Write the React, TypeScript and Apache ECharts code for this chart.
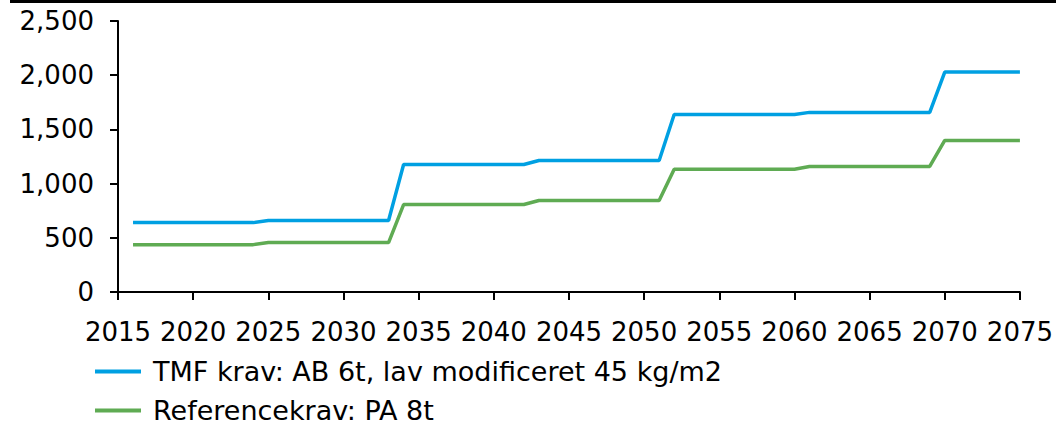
import React, { useEffect, useRef } from "react";
import * as echarts from "echarts";

const years = [
  2016, 2017, 2018, 2019, 2020, 2021, 2022, 2023, 2024,
  2025, 2026, 2027, 2028, 2029, 2030, 2031, 2032, 2033,
  2034, 2035, 2036, 2037, 2038, 2039, 2040, 2041, 2042,
  2043, 2044, 2045, 2046, 2047, 2048, 2049, 2050, 2051,
  2052, 2053, 2054, 2055, 2056, 2057, 2058, 2059, 2060,
  2061, 2062, 2063, 2064, 2065, 2066, 2067, 2068, 2069,
  2070, 2071, 2072, 2073, 2074, 2075,
];

const tmfValues = [
  640, 640, 640, 640, 640, 640, 640, 640, 640,
  659, 659, 659, 659, 659, 659, 659, 659, 659,
  1176, 1176, 1176, 1176, 1176, 1176, 1176, 1176, 1176,
  1213, 1213, 1213, 1213, 1213, 1213, 1213, 1213, 1213,
  1638, 1638, 1638, 1638, 1638, 1638, 1638, 1638, 1638,
  1657, 1657, 1657, 1657, 1657, 1657, 1657, 1657, 1657,
  2029, 2029, 2029, 2029, 2029, 2029,
];

const refValues = [
  437, 437, 437, 437, 437, 437, 437, 437, 437,
  456, 456, 456, 456, 456, 456, 456, 456, 456,
  807, 807, 807, 807, 807, 807, 807, 807, 807,
  844, 844, 844, 844, 844, 844, 844, 844, 844,
  1133, 1133, 1133, 1133, 1133, 1133, 1133, 1133, 1133,
  1158, 1158, 1158, 1158, 1158, 1158, 1158, 1158, 1158,
  1398, 1398, 1398, 1398, 1398, 1398,
];

const seriesNames = [
  "TMF krav: AB 6t, lav modificeret 45 kg/m2",
  "Referencekrav: PA 8t",
];

const FONT = "'DejaVu Sans', Verdana, sans-serif";

export default function App() {
  const ref = useRef<HTMLDivElement>(null);

  useEffect(() => {
    document.body.style.margin = "0";
    const chart = echarts.init(ref.current!, null, { renderer: "svg" });
    const toPairs = (vals: number[]) => years.map((y, i) => [y, vals[i]]);
    const legendBase = {
      orient: "vertical",
      left: 95,
      padding: 0,
      itemWidth: 46,
      itemHeight: 4,
      icon: "rect",
      textStyle: {
        color: "#000",
        fontSize: 27,
        lineHeight: 22,
        fontFamily: FONT,
        padding: [0, 0, 0, 7],
      },
    };
    chart.setOption({
      animation: false,
      textStyle: { fontFamily: FONT },
      grid: { left: 118, right: 36, top: 21, bottom: 133, containLabel: false },
      graphic: [
        {
          type: "rect",
          shape: { x: 10, y: 0, width: 1046, height: 3 },
          style: { fill: "#000" },
        },
      ],
      xAxis: {
        type: "value",
        min: 2015,
        max: 2075,
        interval: 5,
        axisLine: { show: true, onZero: false, lineStyle: { color: "#000", width: 2 } },
        axisTick: { show: true, length: 8, lineStyle: { color: "#000", width: 2 } },
        splitLine: { show: false },
        axisLabel: {
          color: "#000",
          fontSize: 26,
          fontFamily: FONT,
          margin: 27,
          formatter: (v: number) => String(v),
        },
      },
      yAxis: {
        type: "value",
        min: 0,
        max: 2500,
        interval: 500,
        axisLine: { show: true, lineStyle: { color: "#000", width: 2 } },
        axisTick: { show: true, length: 8, lineStyle: { color: "#000", width: 2 } },
        splitLine: { show: false },
        axisLabel: {
          color: "#000",
          fontSize: 26,
          fontFamily: FONT,
          margin: 24,
          formatter: (v: number) => v.toLocaleString("en-US"),
        },
      },
      legend: [
        { ...legendBase, top: 358, data: [seriesNames[0]] },
        { ...legendBase, top: 397, data: [seriesNames[1]] },
      ],
      series: [
        {
          name: seriesNames[0],
          type: "line",
          data: toPairs(tmfValues),
          symbol: "none",
          lineStyle: { color: "#00A0E2", width: 3.5 },
          itemStyle: { color: "#00A0E2" },
        },
        {
          name: seriesNames[1],
          type: "line",
          data: toPairs(refValues),
          symbol: "none",
          lineStyle: { color: "#5FAB53", width: 3.5 },
          itemStyle: { color: "#5FAB53" },
        },
      ],
    });
    return () => chart.dispose();
  }, []);

  return <div ref={ref} style={{ width: 1056, height: 425 }} />;
}
